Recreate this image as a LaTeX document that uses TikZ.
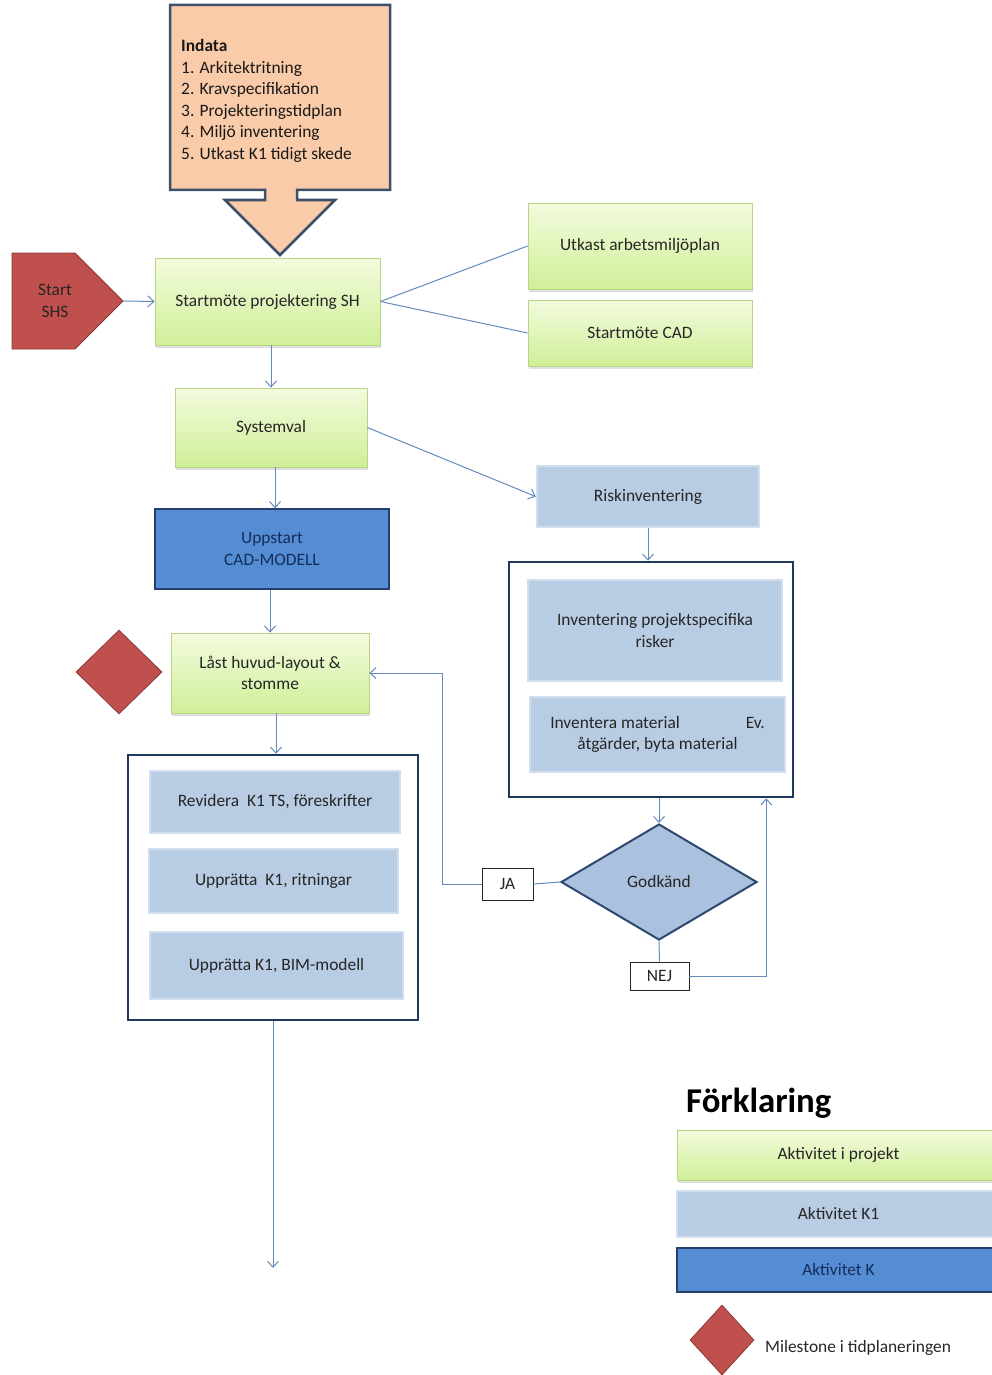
\documentclass[tikz,border=0pt]{standalone}
\usepackage{fontspec}
\setmainfont{Carlito}
\usetikzlibrary{shapes.geometric,arrows.meta,shadows}

\definecolor{peach}{RGB}{250,203,168}
\definecolor{indataedge}{RGB}{60,80,108}
\definecolor{limetop}{RGB}{243,251,222}
\definecolor{limebot}{RGB}{208,239,152}
\definecolor{limeedge}{RGB}{182,214,134}
\definecolor{kettfill}{RGB}{184,204,228}
\definecolor{kettedge}{RGB}{208,222,240}
\definecolor{kfill}{RGB}{84,141,212}
\definecolor{kedge}{RGB}{38,64,110}
\definecolor{redfill}{RGB}{192,80,77}
\definecolor{rededge}{RGB}{140,56,54}
\definecolor{linecol}{RGB}{100,138,186}
\definecolor{framecol}{RGB}{33,56,94}
\definecolor{textcol}{RGB}{38,38,38}

\tikzset{
    base/.style={rectangle, inner sep=0pt, align=center, text=textcol,
        font=\fontsize{17.4}{21.5}\selectfont},
    proj/.style={base, draw=limeedge, line width=0.8pt,
        top color=limetop, bottom color=limebot,
        drop shadow={opacity=0.25, shadow xshift=1pt, shadow yshift=-2.5pt}},
    kett/.style={base, draw=kettedge, line width=2.5pt, fill=kettfill},
    kbox/.style={base, draw=kedge, line width=1.5pt, fill=kfill, text={rgb,255:red,20;green,45;blue,90}},
    frame/.style={rectangle, draw=framecol, line width=2.5pt, fill=white},
    milestone/.style={diamond, inner sep=0pt, fill=redfill, draw=rededge, line width=0.8pt},
    answer/.style={base, draw=black!85, line width=0.8pt, fill=white},
    link/.style={draw=linecol, line width=1pt},
    >={Straight Barb[length=6pt,width=11pt]}
}

\begin{document}
\begin{tikzpicture}[x=1pt,y=-1pt]
    \useasboundingbox (0,0) rectangle (992,1375);

    % indata arrow
    \draw [fill=peach, draw=indataedge, line width=2.5pt, line join=miter]
        (170,5) -- (390,5) -- (390,190) -- (297,190) -- (297,200) -- (335,200)
        -- (280,255) -- (225,200) -- (265,200) -- (265,190) -- (170,190) -- cycle;
    \node [anchor=north west, align=left, inner sep=0pt, text=black!90,
        font=\fontsize{17.4}{21.5}\selectfont] (indata) at (181,39.5)
        {\textbf{Indata}\\1. Arkitektritning\\2. Kravspecifikation\\3. Projekteringstidplan\\4. Miljö inventering\\5. Utkast K1 tidigt skede};

    % start and first meetings
    \draw [fill=redfill, draw=rededge, line width=0.8pt, line join=miter]
        (12,253) -- (75,253) -- (123,301) -- (75,349) -- (12,349) -- cycle;
    \node [base, text=black!85] (start) at (55,301) {Start\\SHS};
    \coordinate (starttip) at (123,301);
    \node [proj, minimum width=225, minimum height=87] (sh) at (267.5,301.5) {Startmöte projektering SH};
    \node [proj, minimum width=224, minimum height=86] (utkast) at (640,246) {Utkast arbetsmiljöplan};
    \node [proj, minimum width=224, minimum height=66] (cad) at (640,333) {Startmöte CAD};

    % main column
    \node [proj, minimum width=192, minimum height=79] (sysval) at (271,427.5) {Systemval};
    \node [kbox, minimum width=234, minimum height=80] (uppstart) at (272,549) {Uppstart\\CAD-MODELL};
    \node [proj, minimum width=198, minimum height=80] (last) at (270,673) {Låst huvud-layout \&\\stomme};
    \node [milestone, minimum width=86, minimum height=84] (ms) at (119,672) {};

    \node [frame, minimum width=290, minimum height=265] (kframe) at (273,887.5) {};
    \node [kett, minimum width=250, minimum height=62] (revidera) at (275,802) {Revidera\ \ K1 TS, föreskrifter};
    \node [kett, minimum width=249, minimum height=64] (ritn) at (273.5,881) {Upprätta\ \ K1, ritningar};
    \node [kett, minimum width=253, minimum height=67] (bim) at (276.5,965.5) {Upprätta K1, BIM-modell};
    \coordinate (ende) at (273,1268);

    % risk column
    \node [kett, minimum width=222, minimum height=61] (risk) at (648,496.5) {Riskinventering};
    \node [frame, minimum width=284, minimum height=235] (riskframe) at (651,679.5) {};
    \node [kett, minimum width=254, minimum height=101] (projrisk) at (655,630.5) {Inventering projektspecifika\\risker};
    \node [kett, minimum width=255, minimum height=75] (material) at (657.5,734.5)
        {Inventera material\hspace{66pt}Ev.\\åtgärder, byta material};
    \node [base, diamond, fill=kettfill!85!linecol, draw=framecol!80!linecol, line width=2pt,
        minimum width=196, minimum height=116] (godkand) at (659,882) {Godkänd};
    \node [answer, minimum width=51, minimum height=32] (ja) at (507.5,884) {JA};
    \node [answer, minimum width=59, minimum height=28] (nej) at (659.5,976) {NEJ};

    % connectors
    \draw [link, ->] (starttip) -- (sh.west);
    \draw [link] (sh.east) -- (utkast.west);
    \draw [link] (sh.east) -- (cad.west);
    \draw [link, ->] (sysval.north |- sh.south) -- (sysval.north);
    \draw [link, ->] (sysval.east) -- (risk.west);
    \draw [link, ->] ([xshift=4pt]sysval.south) -- ([xshift=4pt]sysval.south |- uppstart.north);
    \draw [link, ->] ([xshift=-2pt]uppstart.south) -- ([xshift=-2pt]uppstart.south |- last.north);
    \draw [link, ->] ([xshift=6pt]last.south) -- ([xshift=6pt]last.south |- kframe.north);
    \draw [link, ->] (kframe.south) -- (ende);
    \draw [link, ->] (risk.south) -- (risk.south |- riskframe.north);
    \draw [link, ->] (riskframe.south -| godkand.north) -- (godkand.north);
    \draw [link] (godkand.west) -- (ja.east);
    \draw [link, ->] (ja.west) -- ++(-39,0) |- (last.east);
    \draw [link] (godkand.south) -- (nej.north);
    \draw [link, ->] (nej.east) -| ([xshift=-28pt]riskframe.south east);

    % legend
    \node [anchor=base west, inner sep=0pt, text=black, font=\bfseries\fontsize{34.8}{40}\selectfont]
        (forklaring) at (686,1112) {Förklaring};
    \node [proj, minimum width=323, minimum height=50] (legproj) at (838.5,1155) {Aktivitet i projekt};
    \node [kett, minimum width=323, minimum height=46] (legk1) at (838.5,1214) {Aktivitet K1};
    \node [kbox, minimum width=323, minimum height=44] (legk) at (838.5,1270) {Aktivitet K};
    \node [milestone, minimum width=64, minimum height=70] (legms) at (722,1340) {};
    \node [anchor=west, inner sep=0pt, text=textcol, font=\fontsize{17.4}{21.5}\selectfont]
        (legmstext) at (765,1348) {Milestone i tidplaneringen};
\end{tikzpicture}
\end{document}
